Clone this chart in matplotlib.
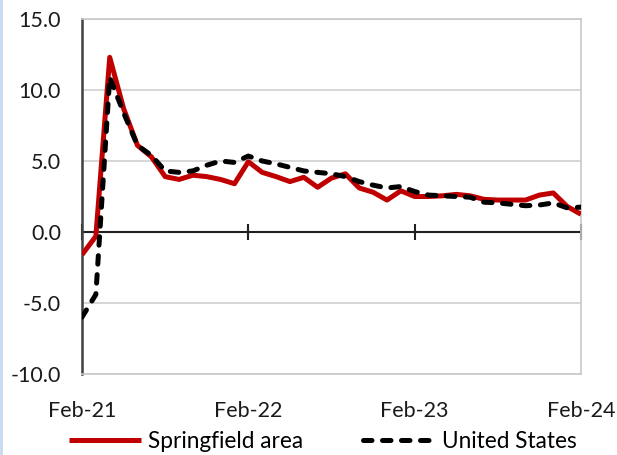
import numpy as np
import matplotlib
matplotlib.use("Agg")
import matplotlib.pyplot as plt
from matplotlib.lines import Line2D

# monthly values, Feb-21 .. Feb-24
springfield = [-1.6, -0.3, 12.3, 8.7, 6.1, 5.3, 3.9, 3.7, 4.0, 3.9, 3.7, 3.4,
               4.95, 4.2, 3.9, 3.55, 3.85, 3.15, 3.8, 4.1, 3.1, 2.8, 2.25, 2.9,
               2.5, 2.5, 2.55, 2.65, 2.55, 2.3, 2.25, 2.25, 2.25, 2.6, 2.75, 1.8,
               1.25]
united_states = [-6.0, -4.4, 10.9, 8.4, 6.1, 5.4, 4.3, 4.2, 4.3, 4.7, 5.0, 4.9,
                 5.35, 5.0, 4.8, 4.55, 4.3, 4.2, 4.1, 3.9, 3.55, 3.3, 3.1, 3.2,
                 2.85, 2.6, 2.55, 2.5, 2.45, 2.1, 2.05, 1.95, 1.85, 1.9, 2.05, 1.7,
                 1.75]
tick_months = [0, 12, 24, 36]
tick_labels = ["Feb-21", "Feb-22", "Feb-23", "Feb-24"]
y_ticks = [-10, -5, 0, 5, 10, 15]

plt.rcParams['font.family'] = ['Lato', 'DejaVu Sans']
fs = 15.5

fig = plt.figure(figsize=(6.17, 4.55), dpi=100)
ax = fig.add_axes([82/617, 1 - 374/455, 499/617, 355/455])

x = np.arange(len(springfield))
ax.plot(x, springfield, color='#C00000', lw=3.6, solid_capstyle='butt',
        label='Springfield area', zorder=3)
ax.plot(x, united_states, color='black', lw=3.6, linestyle=(0, (1.7, 2.1)),
        dash_capstyle='round', label='United States', zorder=4)

ax.set_xlim(0, 36)
ax.set_ylim(-10, 15)
ax.set_yticks(y_ticks)
ax.set_yticklabels([f"{v:.1f}" for v in y_ticks])
ax.set_xticks(tick_months)
ax.set_xticklabels(tick_labels)
ax.tick_params(axis='both', length=0, labelsize=fs, colors='#1a1a1a')
ax.tick_params(axis='y', pad=15)
ax.tick_params(axis='x', pad=19.5)

ax.grid(axis='y', color='#d0d0d0', lw=1.2)
ax.set_axisbelow(True)
for s in ['top', 'right', 'bottom']:
    ax.spines[s].set_color('#c8c8c8')
    ax.spines[s].set_linewidth(1.2)
ax.spines['left'].set_color('#404040')
ax.spines['left'].set_linewidth(1.8)

# horizontal axis line through zero with tick marks
ax.axhline(0, color='#202020', lw=1.5, zorder=2)
ax.plot(tick_months, [0] * len(tick_months), ls='none', marker='|',
        markersize=11, markeredgewidth=1.5, color='#202020', zorder=2,
        clip_on=False)

fig.legend(loc='lower center', bbox_to_anchor=(0.5235, -0.039), ncol=2,
           frameon=False, fontsize=16.3, handlelength=3.2, handletextpad=0.3,
           columnspacing=2.65)

fig.add_artist(Line2D([0.002, 0.002], [0, 1], color='#c5d9f1', lw=2,
                      transform=fig.transFigure))

fig.savefig("out.png", dpi=100)
